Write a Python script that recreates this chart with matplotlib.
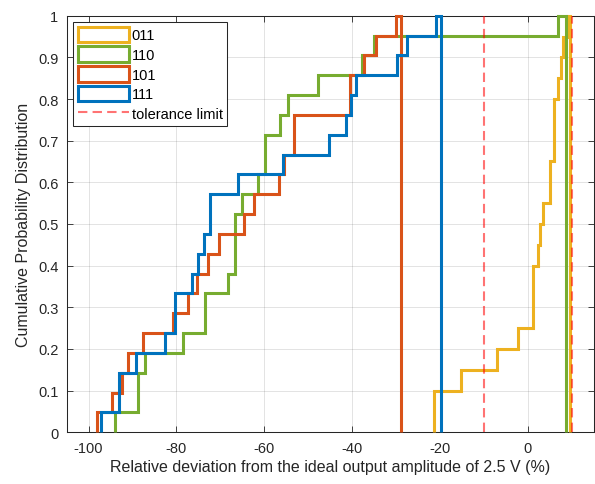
import matplotlib
matplotlib.use("Agg")
import matplotlib.pyplot as plt
import matplotlib.patches as mpatches
from matplotlib.lines import Line2D
import numpy as np

plt.rcParams['font.family'] = ['Liberation Sans', 'DejaVu Sans']
plt.rcParams['axes.unicode_minus'] = False

# step positions (%), samples added at each step, right edge of last bin
x_011 = [-21.46, -15.25, -7.01, -2.30, 1.23, 2.32, 2.82, 3.37, 4.92, 5.85,
         6.96, 7.51, 7.92, 8.97]
n_011 = [2, 1, 1, 1, 3, 1, 1, 1, 2, 3, 1, 1, 1, 1]
end_011 = 9.49

x_110 = [-94.01, -88.78, -87.07, -78.42, -73.42, -68.18, -66.59, -65.07,
         -61.47, -59.76, -56.35, -54.69, -47.70, -37.69, -35.07, 6.76]
n_110 = [1, 2, 1, 1, 2, 1, 3, 1, 1, 2, 1, 1, 1, 1, 1, 1]
end_110 = 8.74

x_101 = [-98.16, -94.70, -92.35, -91.13, -87.69, -80.86, -77.40, -75.26,
         -72.74, -70.39, -64.70, -62.42, -56.69, -55.53, -53.16, -40.58,
         -37.35, -34.66, -30.06]
n_101 = [1, 1, 1, 1, 1, 1, 1, 1, 1, 1, 1, 1, 1, 1, 2, 2, 1, 1, 1]
end_101 = -28.97

x_111 = [-97.09, -93.15, -89.24, -82.70, -80.31, -76.45, -75.17, -73.81,
         -72.44, -65.98, -55.85, -45.36, -41.33, -40.26, -39.17, -29.79,
         -27.45, -20.85]
n_111 = [1, 2, 1, 1, 2, 1, 1, 1, 2, 1, 1, 1, 1, 1, 1, 1, 1, 1]
end_111 = -19.71

tolerance = [-10, 10]

series = [
    ("011", x_011, n_011, end_011, "#EDB120"),
    ("110", x_110, n_110, end_110, "#77AC30"),
    ("101", x_101, n_101, end_101, "#D95319"),
    ("111", x_111, n_111, end_111, "#0072BD"),
]

fig = plt.figure(figsize=(5.95, 4.85), dpi=100)
ax = fig.add_axes([0.112, 0.1066, 0.886, 0.859])

handles = []
for nombre, xs, cuenta, fin, col in series:
    bordes = np.append(xs, fin)
    cdf = np.cumsum(cuenta) / np.sum(cuenta)
    sp = ax.stairs(cdf, bordes, baseline=0, fill=False, color=col,
                   lw=2.2, clip_on=False, zorder=3)
    sp.set_joinstyle('miter')
    handles.append(mpatches.Patch(facecolor='white', edgecolor=col,
                                  lw=2.2, label=nombre))

for t in tolerance:
    ax.axvline(t, color='red', alpha=0.55, lw=1.5, ls=(0, (4.5, 2.5)),
               zorder=4)
handles.append(Line2D([], [], color='red', alpha=0.55, lw=1.5,
                      ls=(0, (4.5, 2.5)), label='tolerance limit'))

ax.set_xlim(-105, 15)
ax.set_ylim(0, 1)
ax.set_xticks(np.arange(-100, 1, 20))
ax.set_yticks(np.arange(0, 1.01, 0.1))
ax.set_yticklabels(['0', '0.1', '0.2', '0.3', '0.4', '0.5', '0.6', '0.7',
                    '0.8', '0.9', '1'])
ax.grid(True, color='#262626', alpha=0.15, lw=0.6)
ax.set_axisbelow(True)
ax.tick_params(direction='in', top=True, right=True, length=4,
               width=0.6, color='#262626', labelcolor='#262626',
               labelsize=10.5, pad=6)
for s in ax.spines.values():
    s.set_color('#262626')
    s.set_linewidth(0.75)

ax.set_xlabel('Relative deviation from the ideal output amplitude of 2.5 V (%)',
              fontsize=11.5, color='#262626', labelpad=3)
ax.set_ylabel('Cumulative Probability Distribution', fontsize=11.5,
              color='#262626', labelpad=5)

leg = ax.legend(handles=handles, loc='upper left',
                bbox_to_anchor=(0.0125, 0.984), borderaxespad=0,
                fontsize=10.5, handlelength=3.5, handleheight=1.25,
                handletextpad=0.2, labelspacing=0.28, borderpad=0.3,
                fancybox=False, framealpha=1)
leg.get_frame().set_edgecolor('#262626')
leg.get_frame().set_linewidth(0.75)
leg.set_zorder(5)

fig.savefig('out.png', dpi=100)
